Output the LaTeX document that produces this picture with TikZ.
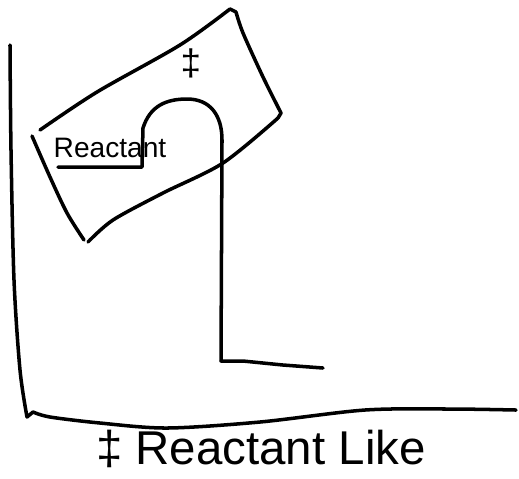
\documentclass[tikz,border=0pt]{standalone}
\usepackage{fontspec}
\setmainfont{Liberation Sans}
\usepackage{xcolor}
\usetikzlibrary{positioning}
\definecolor{Ink}{RGB}{0,0,0}

\begin{document}
\begin{tikzpicture}[x=0.02cm,y=-0.02cm,
    pen/.style={draw=Ink,line width=2pt,line cap=round,line join=round},
    hand/.style={text=Ink,inner sep=0pt}]
  \useasboundingbox (0,0) rectangle (519,478);

  % axes
  \coordinate (ytop) at (10,45);
  \coordinate (origin) at (27,417);
  \coordinate (xend) at (516,410);
  \draw[pen] plot[smooth] coordinates {(ytop) (11,150) (14,280) (20,370) (origin)}
    -- (33,412);
  \draw[pen] plot[smooth] coordinates {(33,412) (50,417) (100,423) (167,428)
    (260,422) (365,410) (450,409) (xend)};

  % tilted box round the barrier
  \draw[pen] plot[smooth] coordinates {(40,130) (97,92) (180,45) (230,9)}
    -- (236,12) plot[smooth] coordinates {(236,12) (243,33) (263,77) (281,113)}
    -- (278,118) plot[smooth] coordinates {(278,118) (223,163) (163,193)
    (113,220) (88,242)};
  \draw[pen] plot[smooth] coordinates {(84,240) (67,213) (50,177) (32,136)};
  \node[hand,font=\fontsize{21}{24}\selectfont] (ts) at (191,63) {‡};

  % energy path
  \node[hand,font=\fontsize{16}{19}\selectfont] (reac) at (110,148) {Reactant};
  \coordinate (rstart) at (58,167);
  \coordinate (rend) at (142,167);
  \coordinate (peak) at (187,99);
  \coordinate (pbot) at (221,361);
  \coordinate (pend) at (323,368);
  \draw[pen] (rstart) -- (rend) -- (143,128)
    .. controls (150,106) and (166,99) .. (peak)
    .. controls (210,99) and (222,115) .. (222,140) -- (pbot)
    -- (243,361) -- (283,365) -- (pend);

  % axis label
  \node[hand,font=\fontsize{27}{30}\selectfont] (xlabel) at (261,449)
    {‡ Reactant Like};
\end{tikzpicture}
\end{document}
